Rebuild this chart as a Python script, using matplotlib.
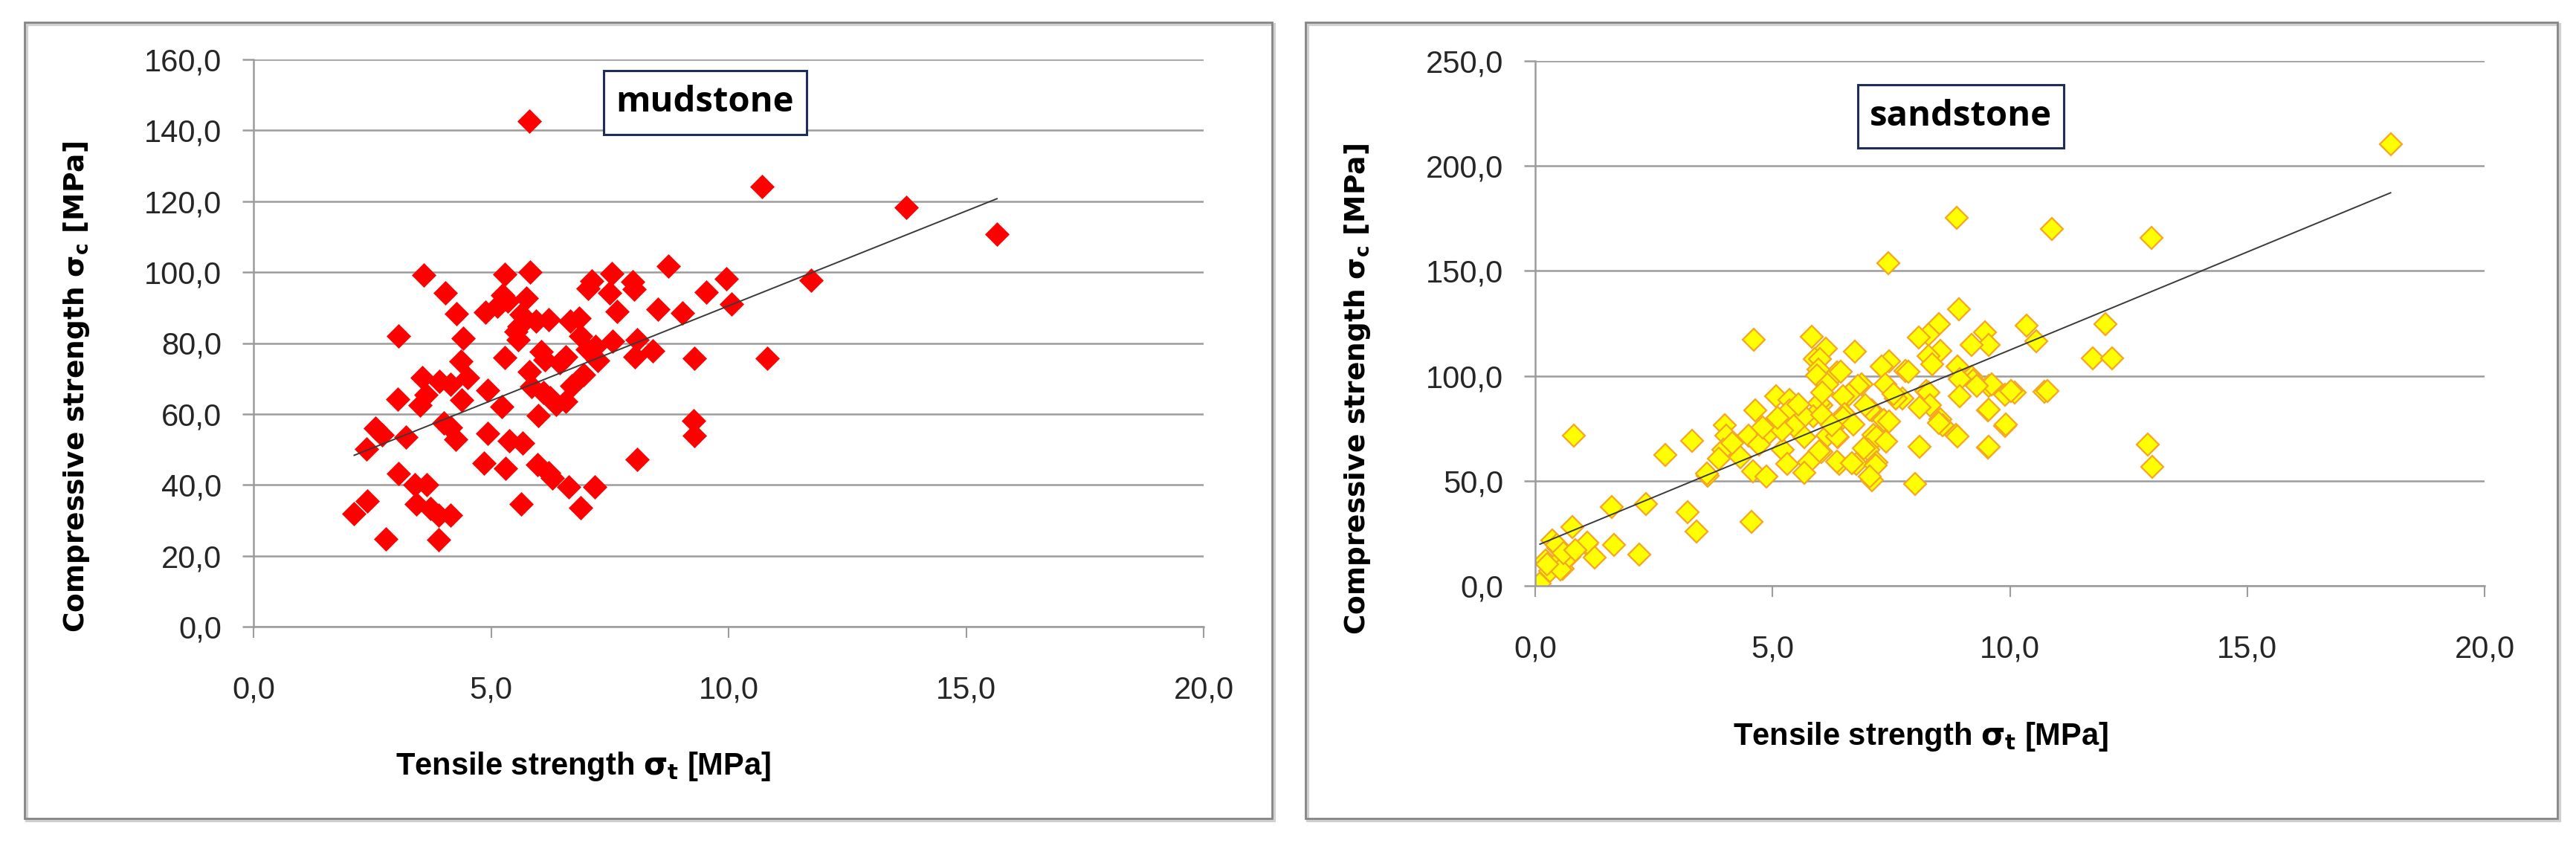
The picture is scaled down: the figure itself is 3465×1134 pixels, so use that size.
import matplotlib
matplotlib.use('Agg')
import matplotlib.pyplot as plt
from matplotlib.patches import Rectangle

# ---- data ----
mud_x = [5.81, 10.70, 13.74, 15.65, 11.74, 9.96, 9.53, 10.07, 9.03, 9.28, 10.82, 9.27, 9.28,
         3.58, 5.29, 5.82, 7.54, 8.73, 4.04, 7.12, 7.05, 7.98, 8.02, 7.50, 5.24, 5.35, 5.75,
         5.13, 4.88, 4.27, 7.66, 8.52, 5.63, 5.59, 5.95, 6.22, 3.05, 4.41, 5.53, 5.57, 6.66,
         6.85, 6.88, 7.03, 7.56, 8.08, 8.03, 8.40, 5.29, 6.05, 6.13, 6.57, 6.45, 7.20, 4.36,
         3.55, 3.91, 4.15, 4.51, 5.81, 4.93, 5.86, 6.10, 3.03, 3.50, 3.63, 4.38, 6.25, 6.37,
         6.57, 5.22, 6.00, 2.57, 2.70, 3.21, 4.01, 4.15, 4.25, 4.93, 5.38, 5.66, 2.38, 4.85,
         5.30, 8.08, 5.98, 6.21, 6.29, 3.05, 3.39, 3.65, 6.63, 7.18, 2.40, 2.12, 3.42, 3.73,
         3.89, 4.15, 5.64, 6.88, 2.78, 3.89, 6.70, 6.95, 7.25]
mud_y = [142.5, 124.2, 118.2, 110.8, 97.8, 98.1, 94.3, 91.0, 88.4, 75.6, 75.6, 58.0, 53.9,
         99.2, 99.4, 100.0, 99.7, 101.8, 94.1, 97.6, 95.5, 97.3, 95.2, 94.1, 93.6, 91.8, 92.6,
         90.3, 88.6, 88.2, 88.9, 89.6, 88.0, 84.7, 86.1, 86.6, 81.9, 81.4, 83.3, 80.9, 86.1,
         87.0, 81.9, 78.3, 80.5, 80.9, 76.2, 77.9, 76.0, 77.6, 75.3, 76.2, 74.4, 79.0, 74.8,
         70.3, 69.2, 68.4, 70.3, 72.0, 66.6, 67.8, 66.0, 64.2, 62.5, 65.5, 64.0, 64.5, 62.6,
         63.6, 62.1, 59.5, 55.9, 54.2, 53.5, 57.5, 56.1, 52.8, 54.6, 52.4, 51.7, 50.2, 46.1,
         44.6, 47.2, 45.7, 43.4, 42.0, 43.1, 40.1, 40.1, 39.4, 39.4, 35.4, 31.9, 34.5, 33.4,
         31.5, 31.5, 34.5, 33.6, 24.8, 24.6, 68.0, 71.0, 75.0]

sand_x = [18.02, 10.89, 12.98, 8.88, 7.44, 8.93, 12.01, 10.36, 10.56, 9.48, 9.56, 9.19, 11.75,
          12.15, 10.73, 9.20, 9.56, 9.90, 10.10, 9.54, 9.90, 9.54, 12.91, 13.00, 4.60, 5.82,
          8.50, 8.29, 8.08, 8.53, 8.29, 6.12, 6.73, 5.89, 6.00, 7.46, 7.30, 7.80, 6.36, 5.97,
          5.94, 6.43, 8.36, 8.90, 7.87, 7.37, 6.88, 6.80, 6.61, 6.49, 9.22, 9.62, 8.95, 9.31,
          8.95, 10.02, 10.79, 8.24, 8.29, 8.32, 8.09, 7.73, 7.59, 6.03, 5.99, 5.85, 5.08, 5.35,
          5.04, 5.35, 4.63, 5.67, 6.52, 7.10, 7.04, 6.05, 6.49, 9.55, 8.54, 8.59, 8.50, 9.91,
          7.35, 7.46, 4.00, 4.03, 3.96, 4.50, 4.90, 6.16, 6.38, 6.36, 7.12, 7.19, 7.40, 8.87,
          8.90, 5.67, 4.72, 5.22, 6.03, 5.99, 7.01, 6.93, 8.09, 9.55, 2.74, 3.30, 3.87, 4.32,
          5.76, 5.67, 5.31, 6.40, 6.36, 6.76, 6.67, 7.19, 7.17, 7.10, 7.04, 4.59, 4.87, 3.64,
          3.62, 8.00, 1.62, 2.34, 3.21, 3.40, 4.56, 0.81, 1.66, 2.19, 0.79, 1.08, 1.26, 0.36,
          0.49, 0.72, 0.22, 0.40, 0.58, 0.09, 0.31, 0.46, 0.69, 1.10, 0.53, 0.25, 0.60, 0.85,
          4.15, 5.45, 5.20, 6.25, 6.70, 4.80, 5.10, 5.55, 6.95, 7.55, 6.15, 6.05]
sand_y = [210.2, 169.9, 165.6, 175.3, 153.7, 131.7, 124.6, 124.1, 116.4, 120.7, 114.7, 114.7,
          108.5, 108.5, 92.4, 99.5, 95.3, 91.0, 91.9, 83.4, 76.3, 65.9, 67.3, 56.6, 117.3, 118.5,
          124.7, 119.6, 118.3, 112.0, 109.4, 113.0, 111.7, 108.0, 108.1, 106.9, 104.3, 102.4,
          101.8, 103.1, 100.3, 102.0, 105.4, 104.6, 102.0, 96.1, 96.1, 95.4, 91.0, 90.3, 97.8,
          96.1, 98.6, 95.4, 90.2, 92.9, 92.7, 92.9, 91.9, 85.9, 85.1, 89.3, 89.1, 85.9, 87.2,
          80.8, 90.2, 88.5, 78.3, 83.4, 83.4, 80.8, 81.7, 83.4, 84.0, 81.4, 80.2, 84.0, 79.2,
          76.6, 77.6, 77.0, 78.9, 78.3, 76.6, 71.5, 64.7, 71.5, 72.4, 71.5, 70.7, 71.2, 71.9,
          70.7, 68.7, 71.9, 71.2, 70.7, 67.3, 64.7, 63.9, 64.2, 64.7, 65.5, 66.2, 66.2, 62.5,
          69.0, 60.5, 61.4, 58.8, 53.7, 58.0, 58.0, 59.2, 58.0, 58.5, 58.8, 57.3, 50.3, 52.0,
          54.6, 52.0, 52.5, 53.3, 48.6, 37.6, 38.8, 35.1, 25.8, 30.3, 71.5, 19.5, 14.7, 27.8,
          19.8, 13.6, 21.5, 18.1, 13.9, 12.2, 9.7, 8.0, 1.2, 7.1, 19.5, 13.6, 20.7, 7.7, 10.1,
          15.5, 17.0, 68.0, 76.0, 74.0, 76.5, 77.0, 75.5, 80.0, 86.5, 86.0, 91.5, 96.0, 92.0]

# linear trend lines as drawn (slope, intercept, x range)
mud_trend = (5.35, 37.0, 2.12, 15.65)
sand_trend = (9.34, 18.9, 0.10, 18.02)

x_ticks = [0, 5, 10, 15, 20]
x_tick_labels = ['0,0', '5,0', '10,0', '15,0', '20,0']
mud_y_ticks = [0, 20, 40, 60, 80, 100, 120, 140, 160]
mud_y_tick_labels = ['0,0', '20,0', '40,0', '60,0', '80,0', '100,0', '120,0', '140,0', '160,0']
sand_y_ticks = [0, 50, 100, 150, 200, 250]
sand_y_tick_labels = ['0,0', '50,0', '100,0', '150,0', '200,0', '250,0']

W, H = 3465, 1134
fig = plt.figure(figsize=(W / 100, H / 100), dpi=100)

plt.rcParams['mathtext.fontset'] = 'custom'
plt.rcParams['mathtext.rm'] = 'DejaVu Sans:bold'
plt.rcParams['mathtext.it'] = 'DejaVu Sans:bold'
plt.rcParams['mathtext.bf'] = 'DejaVu Sans:bold'

grid_c = '#9c9c9c'
narrow = ['Liberation Sans Narrow', 'Liberation Sans', 'DejaVu Sans']


def px_rect(x0, y0, x1, y1):
    # pixel box (top-left origin) -> figure fraction [l, b, w, h]
    return [x0 / W, 1 - y1 / H, (x1 - x0) / W, (y1 - y0) / H]


def panel(frame, axbox, xs, ys, trend, yt, ytl, ymax, mk, title, title_box,
          xlab_pos, ylab_pos):
    # outer chart frame
    fx0, fy0, fx1, fy1 = frame
    fig.patches.append(Rectangle((fx0 / W + 0.0008, 1 - fy1 / H - 0.003),
                                 (fx1 - fx0) / W, (fy1 - fy0) / H,
                                 transform=fig.transFigure, fill=False,
                                 edgecolor='#d0d0d0', lw=3))
    fig.patches.append(Rectangle((fx0 / W, 1 - fy1 / H), (fx1 - fx0) / W, (fy1 - fy0) / H,
                                 transform=fig.transFigure, fill=False,
                                 edgecolor='#858585', lw=2))

    ax = fig.add_axes(px_rect(*axbox))
    ax.set_xlim(0, 20)
    ax.set_ylim(0, ymax)
    for s in ['top', 'right']:
        ax.spines[s].set_visible(False)
    for s in ['left', 'bottom']:
        ax.spines[s].set_color(grid_c)
        ax.spines[s].set_linewidth(1.8)
    ax.set_yticks(yt)
    ax.set_yticklabels(ytl)
    ax.set_xticks(x_ticks)
    ax.set_xticklabels(x_tick_labels)
    ax.yaxis.grid(True, color=grid_c, lw=1.8)
    ax.set_axisbelow(True)
    ax.tick_params(axis='x', direction='out', length=11, width=1.5, color=grid_c,
                   pad=36, labelsize=30, labelcolor='#262626')
    ax.tick_params(axis='y', direction='out', length=11, width=1.8, color=grid_c,
                   pad=20, labelsize=30, labelcolor='#262626')
    for lab in ax.get_xticklabels() + ax.get_yticklabels():
        lab.set_family(narrow)

    ax.plot(xs, ys, linestyle='none', **mk)
    k, b, xa, xb = trend
    ax.plot([xa, xb], [k * xa + b, k * xb + b], color='#3a3a3a', lw=1.4, zorder=3)

    ax.set_xlabel(r'Tensile strength $\sigma_{t}$ [MPa]', fontsize=30,
                  fontweight='bold', family=narrow)
    ax.xaxis.set_label_coords(*xlab_pos)
    ax.xaxis.label.set_va('center')
    ax.set_ylabel(r'Compressive strength $\sigma_{c}$ [MPa]', fontsize=27,
                  fontweight='bold', family=['DejaVu Sans'])
    ax.yaxis.set_label_coords(*ylab_pos)
    ax.yaxis.label.set_va('center')

    bx0, by0, bx1, by1 = title_box
    fig.patches.append(Rectangle((bx0 / W, 1 - by1 / H), (bx1 - bx0) / W, (by1 - by0) / H,
                                 transform=fig.transFigure, facecolor='white',
                                 edgecolor='#1f2d5c', lw=2.2, zorder=5))
    fig.text((bx0 + bx1) / 2 / W, 1 - (by0 + by1) / 2 / H, title, ha='center',
             va='center', fontsize=34, fontweight='bold',
             family=['Open Sans', 'DejaVu Sans'], zorder=6)
    return ax


mud_mk = dict(marker='D', markersize=16, markerfacecolor='#ff0000',
              markeredgecolor='#ff0000', markeredgewidth=0.5)
sand_mk = dict(marker='D', markersize=15, markerfacecolor='#ffff00',
               markeredgecolor='#f5a623', markeredgewidth=1.6)

panel((33, 30, 1711, 1101), (341, 80, 1619, 843), mud_x, mud_y, mud_trend,
      mud_y_ticks, mud_y_tick_labels, 160, mud_mk, 'mudstone', (812, 95, 1085, 181),
      (0.347, -0.246), (-0.186, 0.422))
panel((1756, 30, 3440, 1101), (2065, 82, 3342, 788), sand_x, sand_y, sand_trend,
      sand_y_ticks, sand_y_tick_labels, 250, sand_mk, 'sandstone', (2499, 114, 2776, 199),
      (0.406, -0.288), (-0.187, 0.374))

fig.savefig('out.png', dpi=100)
